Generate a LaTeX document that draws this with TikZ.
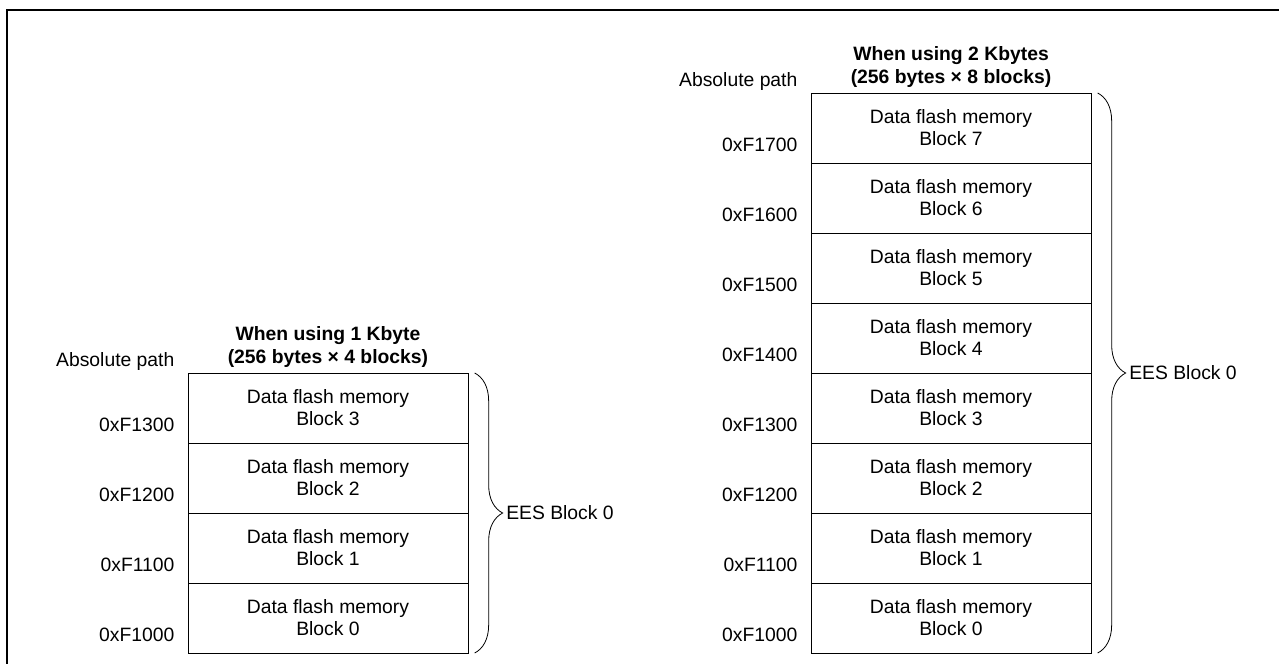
\documentclass[tikz,border=0pt]{standalone}
\usepackage{fontspec}
\setmainfont{Liberation Sans}
\usetikzlibrary{positioning, decorations.pathreplacing}
\tikzstyle{block} = [rectangle, draw=black, line width=0.6pt, minimum width=210pt, minimum height=52.5pt, outer sep=0pt, align=center, font=\fontsize{14.5}{16.5}\selectfont]
\tikzstyle{addr} = [inner sep=0pt, anchor=base east, font=\fontsize{14.5}{16.5}\selectfont]
\tikzstyle{heading} = [inner sep=0pt, align=center, font=\fontsize{14.5}{17}\selectfont\bfseries]
\tikzstyle{brace} = [decorate, decoration={brace, amplitude=21pt}, line width=0.6pt]

\begin{document}
\begin{tikzpicture}[x=0.75pt, y=-0.75pt]

\useasboundingbox (0,0) rectangle (1279,664);
\draw [line width=2pt] (1279,10) -| (7,664);

% 1 Kbyte
\node (blkA3) [block] at (328,408) {Data flash memory\\Block 3};
\node (blkA2) [block, below=0pt of blkA3] {Data flash memory\\Block 2};
\node (blkA1) [block, below=0pt of blkA2] {Data flash memory\\Block 1};
\node (blkA0) [block, below=0pt of blkA1] {Data flash memory\\Block 0};

\node (ttlA) [heading, above=4pt of blkA3] {When using 1 Kbyte\\(256 bytes × 4 blocks)};
\node (absA) [addr] at ([shift={(-10pt,5pt)}]blkA3.north west) {Absolute path};
\node (adrA3) [addr] at ([shift={(-10pt,9pt)}]blkA3.south west) {0xF1300};
\node (adrA2) [addr] at ([shift={(-10pt,9pt)}]blkA2.south west) {0xF1200};
\node (adrA1) [addr] at ([shift={(-10pt,9pt)}]blkA1.south west) {0xF1100};
\node (adrA0) [addr] at ([shift={(-10pt,9pt)}]blkA0.south west) {0xF1000};

\draw [brace] ([xshift=5pt]blkA3.north east) -- ([xshift=5pt]blkA0.south east);
\node (eesA) [addr, anchor=west] at ([xshift=28.5pt]blkA2.south east) {EES Block 0};

% 2 Kbytes
\node (blkB7) [block] at (951,128) {Data flash memory\\Block 7};
\node (blkB6) [block, below=0pt of blkB7] {Data flash memory\\Block 6};
\node (blkB5) [block, below=0pt of blkB6] {Data flash memory\\Block 5};
\node (blkB4) [block, below=0pt of blkB5] {Data flash memory\\Block 4};
\node (blkB3) [block, below=0pt of blkB4] {Data flash memory\\Block 3};
\node (blkB2) [block, below=0pt of blkB3] {Data flash memory\\Block 2};
\node (blkB1) [block, below=0pt of blkB2] {Data flash memory\\Block 1};
\node (blkB0) [block, below=0pt of blkB1] {Data flash memory\\Block 0};

\node (ttlB) [heading, above=4pt of blkB7] {When using 2 Kbytes\\(256 bytes × 8 blocks)};
\node (absB) [addr] at ([shift={(-10pt,5pt)}]blkB7.north west) {Absolute path};
\node (adrB7) [addr] at ([shift={(-10pt,9pt)}]blkB7.south west) {0xF1700};
\node (adrB6) [addr] at ([shift={(-10pt,9pt)}]blkB6.south west) {0xF1600};
\node (adrB5) [addr] at ([shift={(-10pt,9pt)}]blkB5.south west) {0xF1500};
\node (adrB4) [addr] at ([shift={(-10pt,9pt)}]blkB4.south west) {0xF1400};
\node (adrB3) [addr] at ([shift={(-10pt,9pt)}]blkB3.south west) {0xF1300};
\node (adrB2) [addr] at ([shift={(-10pt,9pt)}]blkB2.south west) {0xF1200};
\node (adrB1) [addr] at ([shift={(-10pt,9pt)}]blkB1.south west) {0xF1100};
\node (adrB0) [addr] at ([shift={(-10pt,9pt)}]blkB0.south west) {0xF1000};

\draw [brace] ([xshift=5pt]blkB7.north east) -- ([xshift=5pt]blkB0.south east);
\node (eesB) [addr, anchor=west] at ([xshift=28.5pt]blkB4.south east) {EES Block 0};

\end{tikzpicture}
\end{document}
